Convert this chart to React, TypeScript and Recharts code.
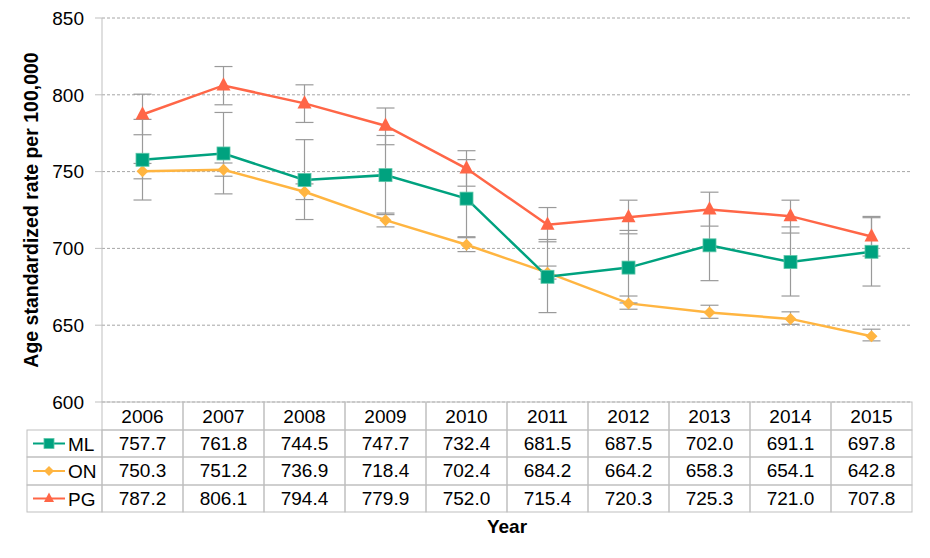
import React from "react";
import {
  LineChart,
  Line,
  XAxis,
  YAxis,
  CartesianGrid,
  ErrorBar,
} from "recharts";

const years = ["2006", "2007", "2008", "2009", "2010", "2011", "2012", "2013", "2014", "2015"];

const mlValues = [757.7, 761.8, 744.5, 747.7, 732.4, 681.5, 687.5, 702.0, 691.1, 697.8];
const onValues = [750.3, 751.2, 736.9, 718.4, 702.4, 684.2, 664.2, 658.3, 654.1, 642.8];
const pgValues = [787.2, 806.1, 794.4, 779.9, 752.0, 715.4, 720.3, 725.3, 721.0, 707.8];

// confidence limits
const mlLow = [731.5, 735.5, 718.8, 722.0, 707.6, 658.2, 664.5, 679.0, 669.0, 675.5];
const mlHigh = [784.0, 788.5, 770.8, 773.5, 757.8, 705.8, 711.7, 725.0, 714.0, 720.0];
const onLow = [745.3, 747.0, 731.8, 714.0, 697.9, 680.0, 660.4, 654.5, 650.6, 639.8];
const onHigh = [755.3, 755.6, 742.0, 723.0, 707.0, 688.5, 669.0, 663.0, 658.7, 647.4];
const pgLow = [774.0, 793.5, 782.0, 767.5, 740.5, 704.3, 709.5, 714.5, 710.0, 695.0];
const pgHigh = [800.4, 818.4, 806.5, 791.4, 763.6, 726.6, 731.4, 736.6, 731.4, 720.8];

const yTicks = [600, 650, 700, 750, 800, 850];

const seriesNames = ["ML", "ON", "PG"];
const seriesValues = [mlValues, onValues, pgValues];

const ML_COLOR = "#00A27F";
const ON_COLOR = "#FFB541";
const PG_COLOR = "#FF6647";
const seriesColors = [ML_COLOR, ON_COLOR, PG_COLOR];

const data = years.map((year, i) => ({
  year,
  ml: mlValues[i],
  on: onValues[i],
  pg: pgValues[i],
  mlErr: [mlValues[i] - mlLow[i], mlHigh[i] - mlValues[i]],
  onErr: [onValues[i] - onLow[i], onHigh[i] - onValues[i]],
  pgErr: [pgValues[i] - pgLow[i], pgHigh[i] - pgValues[i]],
}));

const WIDTH = 914;
const HEIGHT = 542;
const MARGIN = { top: 10, right: 10, left: 0, bottom: 0 };
const Y_AXIS_W = 94;
const X_AXIS_H = 148;
const PLOT_W = WIDTH - MARGIN.left - MARGIN.right - Y_AXIS_W;
const BAND = PLOT_W / years.length;
const ROW_Y = [0, 28, 55, 83, 110];
const GRID = "#BFBFBF";
const FONT = "'Liberation Sans', Arial, sans-serif";
const FS = 19;

function Marker({ kind, cx, cy, color, s }: { kind: number; cx: number; cy: number; color: string; s: number }) {
  if (kind === 0) {
    return <rect x={cx - s / 2} y={cy - s / 2} width={s} height={s} fill={color} stroke="#5cc6a8" strokeWidth={0.8} />;
  }
  if (kind === 1) {
    const r = s * 0.5;
    return <polygon points={`${cx},${cy - r} ${cx + r},${cy} ${cx},${cy + r} ${cx - r},${cy}`} fill={color} />;
  }
  const h = s * 0.95;
  return (
    <polygon
      points={`${cx},${cy - h * 0.62} ${cx + s / 2},${cy + h * 0.38} ${cx - s / 2},${cy + h * 0.38}`}
      fill={color}
    />
  );
}

const makeDot = (kind: number, color: string, s: number) => (props: any) => {
  const { cx, cy, index } = props;
  if (cx == null || cy == null) return <g key={index} />;
  return <Marker key={index} kind={kind} cx={cx} cy={cy} color={color} s={s} />;
};

function TableTick(props: any) {
  const { x, y, payload, index } = props;
  const left = x - BAND / 2;
  return (
    <g>
      {ROW_Y.slice(0, 4).map((ry, r) => (
        <rect
          key={r}
          x={left}
          y={y + ry}
          width={BAND}
          height={ROW_Y[r + 1] - ry}
          fill="none"
          stroke={GRID}
          strokeWidth={1}
        />
      ))}
      <text x={x} y={y + 20.5} textAnchor="middle" fontFamily={FONT} fontSize={FS} fill="#000">
        {payload.value}
      </text>
      {seriesValues.map((vals, r) => (
        <text
          key={r}
          x={x}
          y={y + ROW_Y[r + 1] + 20}
          textAnchor="middle"
          fontFamily={FONT}
          fontSize={FS}
          fill="#000"
        >
          {vals[index].toFixed(1)}
        </text>
      ))}
      {index === 0 &&
        seriesNames.map((name, r) => {
          const top = y + ROW_Y[r + 1];
          const h = ROW_Y[r + 2] - ROW_Y[r + 1];
          const mid = top + h / 2;
          return (
            <g key={name}>
              <rect x={left - 75} y={top} width={75} height={h} fill="none" stroke={GRID} strokeWidth={1} />
              <line x1={left - 69} x2={left - 37} y1={mid} y2={mid} stroke={seriesColors[r]} strokeWidth={2} />
              <Marker kind={r} cx={left - 53} cy={mid} color={seriesColors[r]} s={10} />
              <text x={left - 34} y={mid + 7} fontFamily={FONT} fontSize={FS} fill="#000">
                {name}
              </text>
            </g>
          );
        })}
    </g>
  );
}

export default function App() {
  return (
    <div style={{ width: WIDTH, height: HEIGHT, fontFamily: FONT }}>
      <LineChart width={WIDTH} height={HEIGHT} data={data} margin={MARGIN}>
        <CartesianGrid vertical={false} stroke="#A6A6A6" strokeDasharray="3 2" />
        <XAxis
          dataKey="year"
          height={X_AXIS_H}
          axisLine={false}
          tickLine={false}
          tickSize={0}
          tickMargin={0}
          interval={0}
          padding={{ left: BAND / 2, right: BAND / 2 }}
          tick={<TableTick />}
          label={{
            content: (p: any) => {
              const vb = p.viewBox || {};
              return (
                <text
                  x={vb.x + vb.width / 2}
                  y={vb.y + 131}
                  textAnchor="middle"
                  fontFamily={FONT}
                  fontSize={19}
                  fontWeight="bold"
                  fill="#000"
                >
                  Year
                </text>
              );
            },
          }}
        />
        <YAxis
          width={Y_AXIS_W}
          domain={[600, 850]}
          ticks={yTicks}
          interval={0}
          axisLine={{ stroke: GRID, strokeWidth: 1 }}
          tickLine={{ stroke: GRID }}
          tickSize={7}
          tickMargin={11}
          tick={{ fontFamily: FONT, fontSize: FS, fill: "#000" }}
          label={{
            content: (p: any) => {
              const vb = p.viewBox || {};
              const cx = 30;
              const cy = vb.y + vb.height / 2;
              return (
                <text
                  x={cx}
                  y={cy}
                  textAnchor="middle"
                  transform={`rotate(-90 ${cx} ${cy})`}
                  fontFamily={FONT}
                  fontSize={19.5}
                  fontWeight="bold"
                  fill="#000"
                >
                  Age standardized rate per 100,000
                </text>
              );
            },
          }}
        />
        <Line
          dataKey="on"
          stroke={ON_COLOR}
          strokeWidth={2.5}
          dot={makeDot(1, ON_COLOR, 12)}
          isAnimationActive={false}
        >
          <ErrorBar dataKey="onErr" stroke="#9A9A9A" strokeWidth={1.2} width={9} direction="y" />
        </Line>
        <Line
          dataKey="ml"
          stroke={ML_COLOR}
          strokeWidth={2.5}
          dot={makeDot(0, ML_COLOR, 13)}
          isAnimationActive={false}
        >
          <ErrorBar dataKey="mlErr" stroke="#9A9A9A" strokeWidth={1.2} width={9} direction="y" />
        </Line>
        <Line
          dataKey="pg"
          stroke={PG_COLOR}
          strokeWidth={2.5}
          dot={makeDot(2, PG_COLOR, 14)}
          isAnimationActive={false}
        >
          <ErrorBar dataKey="pgErr" stroke="#9A9A9A" strokeWidth={1.2} width={9} direction="y" />
        </Line>
      </LineChart>
    </div>
  );
}
